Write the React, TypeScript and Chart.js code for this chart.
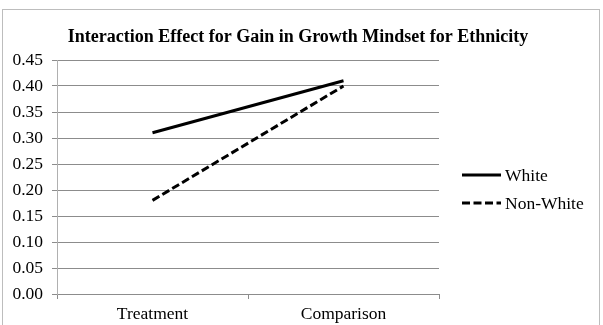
import React, { useEffect, useRef } from "react";
import { Chart, registerables } from "chart.js";

Chart.register(...registerables);

const categories = ["Treatment", "Comparison"];
const whiteValues = [0.31, 0.41];
const nonWhiteValues = [0.18, 0.4];
const seriesNames = ["White", "Non-White"];
const chartTitle = "Interaction Effect for Gain in Growth Mindset for Ethnicity";

const SERIF = "'Liberation Serif', 'Times New Roman', serif";
const AXIS_GRAY = "#8c8c8c";

// Frame, title and a line-sample legend drawn around the plot.
const decorations = {
  id: "decorations",
  beforeDraw(chart: any) {
    const ctx = chart.ctx;
    ctx.save();
    ctx.fillStyle = "#ffffff";
    ctx.fillRect(0, 0, chart.width, chart.height);
    ctx.strokeStyle = "#bdbdbd";
    ctx.lineWidth = 1;
    ctx.strokeRect(2.5, 9.5, 597, 330);
    ctx.restore();
  },
  afterDraw(chart: any) {
    const ctx = chart.ctx;
    ctx.save();
    ctx.fillStyle = "#000000";
    ctx.font = `bold 18px ${SERIF}`;
    ctx.textAlign = "center";
    ctx.textBaseline = "middle";
    ctx.fillText(chartTitle, 298, 37);

    const legendX = 462;
    const legendTop = 175;
    const rowGap = 28;
    chart.data.datasets.forEach((ds: any, i: number) => {
      const y = legendTop + i * rowGap;
      ctx.beginPath();
      ctx.setLineDash(ds.borderDash || []);
      ctx.lineWidth = ds.borderWidth;
      ctx.strokeStyle = ds.borderColor;
      ctx.moveTo(legendX, y);
      ctx.lineTo(legendX + 39, y);
      ctx.stroke();
      ctx.setLineDash([]);
      ctx.font = `17.5px ${SERIF}`;
      ctx.textAlign = "left";
      ctx.fillText(ds.label, legendX + 43, y + 1);
    });
    ctx.restore();
  },
};

export default function App() {
  const canvasRef = useRef<HTMLCanvasElement | null>(null);

  useEffect(() => {
    if (!canvasRef.current) return;
    const chart = new Chart(canvasRef.current, {
      type: "line",
      data: {
        labels: categories,
        datasets: [
          {
            label: seriesNames[0],
            data: whiteValues,
            borderColor: "#000000",
            borderWidth: 3,
            pointRadius: 0,
            tension: 0,
          },
          {
            label: seriesNames[1],
            data: nonWhiteValues,
            borderColor: "#000000",
            borderWidth: 3,
            borderDash: [8, 3.5],
            pointRadius: 0,
            tension: 0,
          },
        ],
      },
      options: {
        animation: false,
        responsive: false,
        events: [],
        layout: { padding: { left: 0, top: 60, right: 164, bottom: 0 } },
        plugins: {
          legend: { display: false },
          title: { display: false },
          tooltip: { enabled: false },
        },
        scales: {
          x: {
            offset: true,
            grid: {
              offset: true,
              drawOnChartArea: false,
              drawTicks: true,
              tickLength: 5,
              color: AXIS_GRAY,
            },
            border: { display: true, color: AXIS_GRAY },
            ticks: {
              color: "#000000",
              font: { family: SERIF, size: 17.5 },
              padding: 5,
              maxRotation: 0,
            },
            afterFit(scale: any) {
              scale.height = 31;
            },
          },
          y: {
            min: 0,
            max: 0.45,
            grid: {
              color: AXIS_GRAY,
              tickLength: 5,
              drawTicks: true,
            },
            border: { display: true, color: "#b0b0b0" },
            ticks: {
              stepSize: 0.05,
              color: "#000000",
              font: { family: SERIF, size: 17.5 },
              padding: 9,
              callback: (v: any) => Number(v).toFixed(2),
            },
            afterFit(scale: any) {
              scale.width = 57;
            },
          },
        },
      },
      plugins: [decorations],
    });
    return () => chart.destroy();
  }, []);

  return (
    <div style={{ position: "fixed", left: 0, top: 0, width: 603, height: 325, background: "#fff" }}>
      <canvas ref={canvasRef} width={603} height={325} style={{ display: "block" }} />
    </div>
  );
}
